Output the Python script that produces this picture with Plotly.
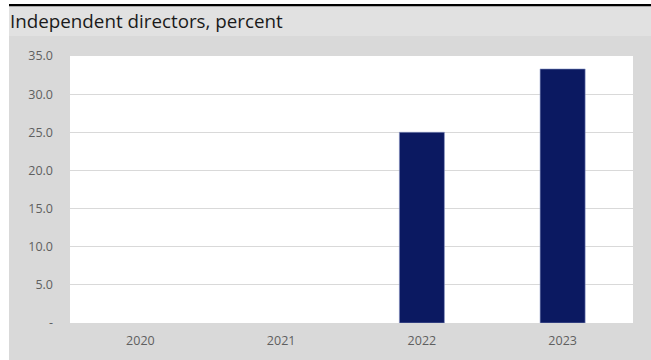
import plotly.graph_objects as go

categories = ["2020", "2021", "2022", "2023"]
values = [0, 0, 25.0, 33.3]
y_tickvals = [0, 5, 10, 15, 20, 25, 30, 35]
y_ticktext = ["-", "5.0", "10.0", "15.0", "20.0", "25.0", "30.0", "35.0"]
title_text = "Independent directors, percent"

W, H = 651, 360
L, R, T, B = 70, 18, 56, 37
pw, ph = W - L - R, H - T - B

def px(x):
    return (x - L) / pw

def py(y):
    return (H - B - y) / ph

fig = go.Figure()
fig.add_trace(go.Bar(
    x=categories, y=values,
    marker=dict(color="#0b1961", line=dict(color="#8a96c4", width=[0 if v == 0 else 0.6 for v in values])),
    width=0.32,
))

shapes = [
    dict(type="rect", xref="paper", yref="paper", x0=px(9), x1=px(652), y0=py(361), y1=py(36),
         fillcolor="#d9d9d9", line=dict(width=0), layer="below"),
    dict(type="rect", xref="paper", yref="paper", x0=px(9), x1=px(652), y0=py(36), y1=py(6),
         fillcolor="#e1e1e1", line=dict(width=0), layer="below"),
    dict(type="rect", xref="x domain", yref="y domain", x0=0, x1=1, y0=0, y1=1,
         fillcolor="#ffffff", line=dict(width=0), layer="below"),
    dict(type="line", xref="paper", yref="paper", x0=px(9), x1=px(652), y0=py(5.2), y1=py(5.2),
         line=dict(color="#000000", width=2.2)),
]

fig.update_layout(
    width=W, height=H,
    margin=dict(l=L, r=R, t=T, b=B, pad=0),
    paper_bgcolor="#ffffff",
    plot_bgcolor="#ffffff",
    showlegend=False,
    shapes=shapes,
    font=dict(family="Open Sans", color="#595959", size=12),
    annotations=[dict(
        text=title_text, xref="paper", yref="paper", x=px(8), y=py(21),
        xanchor="left", yanchor="middle", showarrow=False,
        font=dict(family="Open Sans", size=18.8, color="#1a1a1a"),
    )],
    xaxis=dict(
        showgrid=False, zeroline=False, showline=False, ticks="",
        tickfont=dict(size=12.5, color="#5f5f5f"), ticklabelstandoff=8,
    ),
    yaxis=dict(
        range=[0, 35], tickvals=y_tickvals, ticktext=y_ticktext,
        showgrid=True, gridcolor="#d9d9d9", gridwidth=1,
        zeroline=False, showline=False, ticks="",
        tickfont=dict(size=12.5, color="#5f5f5f"), ticklabelstandoff=16,
    ),
)

fig.write_html("out.html")
